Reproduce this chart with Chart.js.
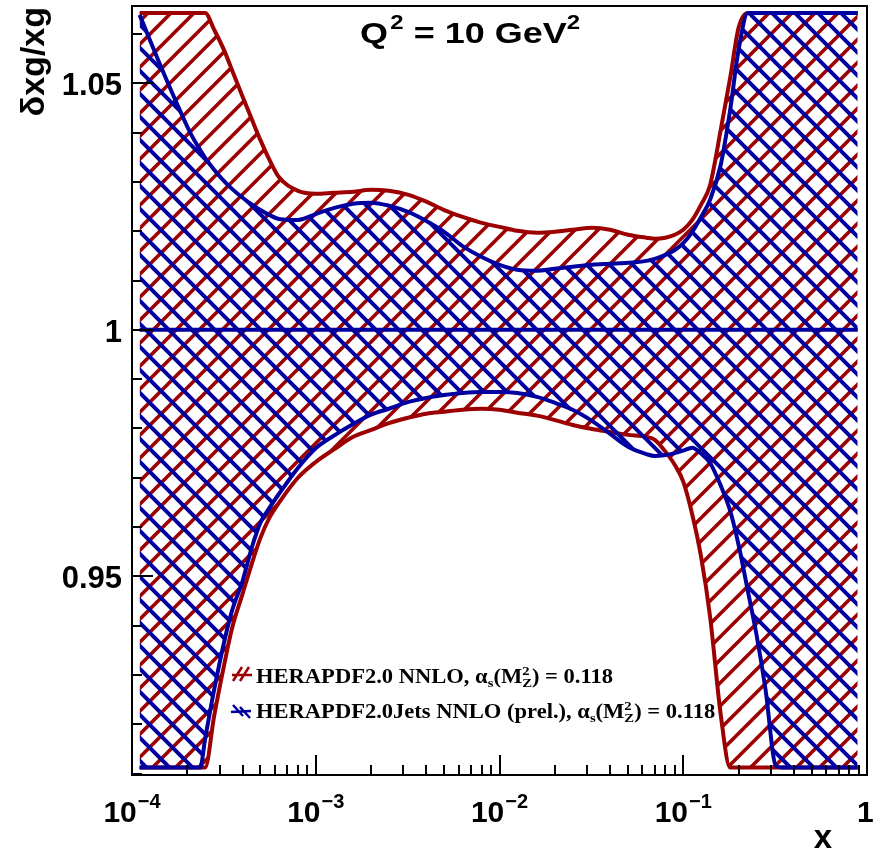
<!DOCTYPE html>
<html>
<head>
<meta charset="utf-8">
<script src="https://cdn.jsdelivr.net/npm/chart.js@4.4.0/dist/chart.umd.min.js"></script>
<style>
  html, body { margin: 0; padding: 0; background: #fff; }
</style>
</head>
<body>
<canvas id="gluon-chart" width="875" height="854"></canvas>
<script>
// values, x on a log axis
const TOP = 1.0643; // bands are cut at the frame top
const BOT = 0.9112; // ... and at the frame bottom

const xValues = [1.1e-4, 1.4e-4, 1.8e-4, 2.1e-4, 2.35e-4, 2.5e-4, 2.8e-4, 3.2e-4, 3.5e-4, 4e-4,
  4.5e-4, 5e-4, 5.6e-4, 6.3e-4, 8e-4, 1e-3, 1.25e-3, 1.6e-3, 2e-3, 2.5e-3,
  3.2e-3, 4e-3, 5e-3, 6.3e-3, 8e-3, 1e-2, 1.25e-2, 1.6e-2, 2e-2, 2.5e-2,
  3.2e-2, 4e-2, 5e-2, 6.3e-2, 7e-2, 8e-2, 9e-2, 0.1, 0.112, 0.125,
  0.14, 0.16, 0.18, 0.2, 0.225, 0.25, 0.28, 0.32, 0.35, 0.4,
  0.5, 0.63, 0.8, 0.89];

// HERAPDF2.0 NNLO band
const heraUpper = [TOP, TOP, TOP, TOP, TOP, TOP, 1.0609, 1.0564, 1.0527, 1.0473,
  1.0426, 1.0385, 1.0345, 1.031, 1.0282, 1.0276, 1.0278, 1.028, 1.0284, 1.0282,
  1.0274, 1.026, 1.0243, 1.0229, 1.0217, 1.0209, 1.0201, 1.0197, 1.0199, 1.0203,
  1.0207, 1.0203, 1.0193, 1.0187, 1.0185, 1.0187, 1.0193, 1.0203, 1.0223, 1.0254,
  1.0294, 1.0406, 1.0511, 1.0613, TOP, TOP, TOP, TOP, TOP, TOP,
  TOP, TOP, TOP, TOP];
const heraLower = [BOT, BOT, BOT, BOT, BOT, BOT, 0.9217, 0.9327, 0.9394, 0.9465,
  0.9527, 0.9578, 0.9619, 0.9649, 0.97, 0.9732, 0.9757, 0.9783, 0.9797, 0.9811,
  0.9822, 0.983, 0.9834, 0.9838, 0.984, 0.9838, 0.9832, 0.9826, 0.9817, 0.9807,
  0.9799, 0.9793, 0.9787, 0.9783, 0.9777, 0.9753, 0.9726, 0.9692, 0.9625, 0.954,
  0.9418, 0.9219, BOT, BOT, BOT, BOT, BOT, BOT, BOT, BOT,
  BOT, BOT, BOT, BOT];

// HERAPDF2.0Jets NNLO band
const jetsUpper = [1.0639, 1.0544, 1.045, 1.0396, 1.0365, 1.0349, 1.0325, 1.03, 1.0286, 1.0268,
  1.0254, 1.0243, 1.0233, 1.0225, 1.0223, 1.0235, 1.0247, 1.0256, 1.0258, 1.0252,
  1.0239, 1.0221, 1.0199, 1.017, 1.0148, 1.0132, 1.0122, 1.012, 1.0124, 1.0128,
  1.0132, 1.0134, 1.0136, 1.014, 1.0144, 1.0152, 1.0162, 1.0176, 1.0199, 1.0229,
  1.0264, 1.0335, 1.0446, 1.0568, TOP, TOP, TOP, TOP, TOP, TOP,
  TOP, TOP, TOP, TOP];
const jetsLower = [BOT, BOT, BOT, BOT, BOT, 0.917, 0.927, 0.9373, 0.943, 0.9491,
  0.956, 0.9609, 0.9639, 0.9667, 0.972, 0.976, 0.9785, 0.9809, 0.9828, 0.984,
  0.9854, 0.9862, 0.9868, 0.9872, 0.9874, 0.9874, 0.9872, 0.9864, 0.9852, 0.9838,
  0.9815, 0.9789, 0.9763, 0.9748, 0.9744, 0.9746, 0.975, 0.9755, 0.9761, 0.9749,
  0.973, 0.9684, 0.9633, 0.9564, 0.9469, 0.9383, 0.9272, 0.9115, BOT, BOT,
  BOT, BOT, BOT, BOT];

const centralX = [1.1e-4, 0.89];
const centralY = [1, 1];

// axis labels
const xMajorTicks = [1e-4, 1e-3, 1e-2, 1e-1, 1];
const xTickBase = ["10", "10", "10", "10", "1"];
const xTickExp = ["\u22124", "\u22123", "\u22122", "\u22121", ""];
const yMajorTicks = [0.95, 1, 1.05];
const yTickLabels = ["0.95", "1", "1.05"];

const RED = "#9c0000";
const BLUE = "#0000a0";
const SANS = '"Liberation Sans", Arial, sans-serif';
const SERIF = '"Liberation Serif", "Times New Roman", serif';

// ROOT style hatch: "/" for red, "\" for blue
function makeHatch(color, slash, size, width) {
  const tile = document.createElement("canvas");
  tile.width = size;
  tile.height = size;
  const g = tile.getContext("2d");
  g.strokeStyle = color;
  g.lineWidth = width;
  g.beginPath();
  for (let k = -1; k <= 2; k++) {
    if (slash) {
      g.moveTo(-size, k * size + size);
      g.lineTo(2 * size, k * size - 2 * size);
    } else {
      g.moveTo(-size, -size + k * size);
      g.lineTo(2 * size, 2 * size + k * size);
    }
  }
  g.stroke();
  return g.createPattern(tile, "repeat");
}

const redHatch = makeHatch(RED, true, 23, 3.6);
const blueHatch = makeHatch(BLUE, false, 23, 4);

function points(ys) {
  return xValues.map((x, i) => ({ x: x, y: ys[i] }));
}

// draws a string made of pieces: normal, sub, sup, or stacked sup/sub
function drawPieces(ctx, pieces, x, y, base, small, family) {
  let cx = x;
  pieces.forEach(p => {
    if (p.stack) {
      ctx.font = "bold " + small + "px " + family;
      const w = Math.max(ctx.measureText(p.stack[0]).width, ctx.measureText(p.stack[1]).width);
      ctx.fillText(p.stack[0], cx, y - base * 0.42);
      ctx.fillText(p.stack[1], cx, y + base * 0.22);
      cx += w;
      return;
    }
    let size = base, dy = 0;
    if (p.sub) { size = small; dy = base * 0.22; }
    if (p.sup) { size = small; dy = -base * 0.48; }
    ctx.font = "bold " + size + "px " + family;
    ctx.fillText(p.t, cx + (p.gap || 0), y + dy);
    cx += ctx.measureText(p.t).width + (p.gap || 0);
  });
  return cx - x;
}

function piecesWidth(ctx, pieces, base, small, family) {
  let w = 0;
  pieces.forEach(p => {
    if (p.stack) {
      ctx.font = "bold " + small + "px " + family;
      w += Math.max(ctx.measureText(p.stack[0]).width, ctx.measureText(p.stack[1]).width);
      return;
    }
    ctx.font = "bold " + ((p.sub || p.sup) ? small : base) + "px " + family;
    w += ctx.measureText(p.t).width + (p.gap || 0);
  });
  return w;
}

const titlePieces = [{ t: "Q" }, { t: "2", sup: true, gap: 2 }, { t: " = 10 GeV" }, { t: "2", sup: true }];

const legendLines = [
  [{ t: "HERAPDF2.0 NNLO, \u03b1" }, { t: "s", sub: true }, { t: "(M" }, { stack: ["2", "Z"] }, { t: ") = 0.118" }],
  [{ t: "HERAPDF2.0Jets NNLO (prel.), \u03b1" }, { t: "s", sub: true }, { t: "(M" }, { stack: ["2", "Z"] }, { t: ") = 0.118" }]
];

const rootFrame = {
  id: "rootFrame",
  afterDraw(chart) {
    const ctx = chart.ctx;
    const a = chart.chartArea;
    const xs = chart.scales.x;
    const ys = chart.scales.y;
    ctx.save();
    ctx.fillStyle = "#000";
    ctx.strokeStyle = "#000";
    ctx.lineWidth = 2;

    // frame
    ctx.strokeRect(a.left, a.top, a.right - a.left, a.bottom - a.top);

    // ticks, drawn inwards like ROOT
    ctx.beginPath();
    for (let d = -4; d < 0; d++) {
      for (let m = 1; m <= 9; m++) {
        const px = Math.round(xs.getPixelForValue(m * Math.pow(10, d)));
        const len = m === 1 ? 20 : 10;
        ctx.moveTo(px, a.bottom);
        ctx.lineTo(px, a.bottom - len);
      }
    }
    for (let k = 91; k <= 106; k++) {
      const py = Math.round(ys.getPixelForValue(k / 100));
      const len = k % 5 === 0 ? 21 : 10;
      ctx.moveTo(a.left, py);
      ctx.lineTo(a.left + len, py);
    }
    ctx.stroke();

    // x tick labels 10^n
    ctx.textBaseline = "alphabetic";
    ctx.textAlign = "left";
    xMajorTicks.forEach((v, i) => {
      const pieces = [{ t: xTickBase[i] }];
      if (xTickExp[i]) pieces.push({ t: xTickExp[i], sup: true, gap: 1 });
      const w = piecesWidth(ctx, pieces, 30, 20, SANS);
      let px = xs.getPixelForValue(v) - w / 2;
      if (i === xMajorTicks.length - 1) px = 857;
      drawPieces(ctx, pieces, px, 822, 30, 20, SANS);
    });

    // y tick labels
    ctx.font = "bold 31px " + SANS;
    ctx.textAlign = "right";
    yMajorTicks.forEach((v, i) => {
      ctx.fillText(yTickLabels[i], 122, ys.getPixelForValue(v) + 12);
    });

    // axis titles
    ctx.font = "bold 33px " + SANS;
    ctx.fillText("x", 832, 848);
    ctx.save();
    ctx.translate(44, 7);
    ctx.rotate(-Math.PI / 2);
    ctx.textAlign = "right";
    ctx.font = "bold 34px " + SANS;
    ctx.fillText("\u03b4xg/xg", 0, 0);
    ctx.restore();

    // plot title, spread to the reference width
    ctx.textAlign = "left";
    const tw = piecesWidth(ctx, titlePieces, 30, 20, SANS);
    ctx.save();
    ctx.translate(360, 43);
    ctx.scale((580 - 360) / tw, 1);
    drawPieces(ctx, titlePieces, 0, 0, 30, 20, SANS);
    ctx.restore();

    // legend icons
    ctx.lineWidth = 2.5;
    ctx.strokeStyle = RED;
    ctx.beginPath();
    ctx.moveTo(233, 681); ctx.lineTo(242, 667);
    ctx.moveTo(240, 681); ctx.lineTo(249, 667);
    ctx.moveTo(232, 675); ctx.lineTo(252, 675);
    ctx.stroke();
    ctx.strokeStyle = BLUE;
    ctx.beginPath();
    ctx.moveTo(233, 705); ctx.lineTo(243, 716);
    ctx.moveTo(240, 707); ctx.lineTo(250, 718);
    ctx.moveTo(231, 712); ctx.lineTo(251, 711);
    ctx.stroke();

    // legend text, ROOT stretches it a little sideways
    ctx.fillStyle = "#000";
    ctx.textAlign = "left";
    const natural = piecesWidth(ctx, legendLines[0], 20, 13, SERIF);
    const stretch = (613 - 256) / natural;
    [683, 718].forEach((base, i) => {
      ctx.save();
      ctx.translate(256, base);
      ctx.scale(stretch, 1);
      drawPieces(ctx, legendLines[i], 0, 0, 20, 13, SERIF);
      ctx.restore();
    });

    ctx.restore();
  }
};

const canvas = document.querySelector("#gluon-chart");
new Chart(canvas.getContext("2d"), {
  type: "line",
  data: {
    datasets: [
      { label: "HERAPDF2.0 NNLO", data: points(heraUpper), borderColor: RED, backgroundColor: redHatch,
        fill: "+1", order: 3 },
      { label: "HERAPDF2.0 NNLO low", data: points(heraLower), borderColor: RED, fill: false, order: 3 },
      { label: "HERAPDF2.0Jets NNLO", data: points(jetsUpper), borderColor: BLUE, backgroundColor: blueHatch,
        fill: "+1", order: 2 },
      { label: "HERAPDF2.0Jets NNLO low", data: points(jetsLower), borderColor: BLUE, fill: false, order: 2 },
      { label: "central", data: centralX.map((x, i) => ({ x: x, y: centralY[i] })), borderColor: BLUE,
        fill: false, order: 1 }
    ]
  },
  options: {
    responsive: false,
    animation: false,
    events: [],
    layout: { padding: { left: 132, right: 8, top: 6, bottom: 79 } },
    elements: {
      point: { radius: 0 },
      line: { borderWidth: 4, cubicInterpolationMode: "monotone" }
    },
    plugins: { legend: { display: false }, tooltip: { enabled: false } },
    scales: {
      x: { type: "logarithmic", min: 1e-4, max: 1, display: false },
      y: { type: "linear", min: 0.9097, max: 1.0657, display: false }
    }
  },
  plugins: [rootFrame]
});
</script>
</body>
</html>
